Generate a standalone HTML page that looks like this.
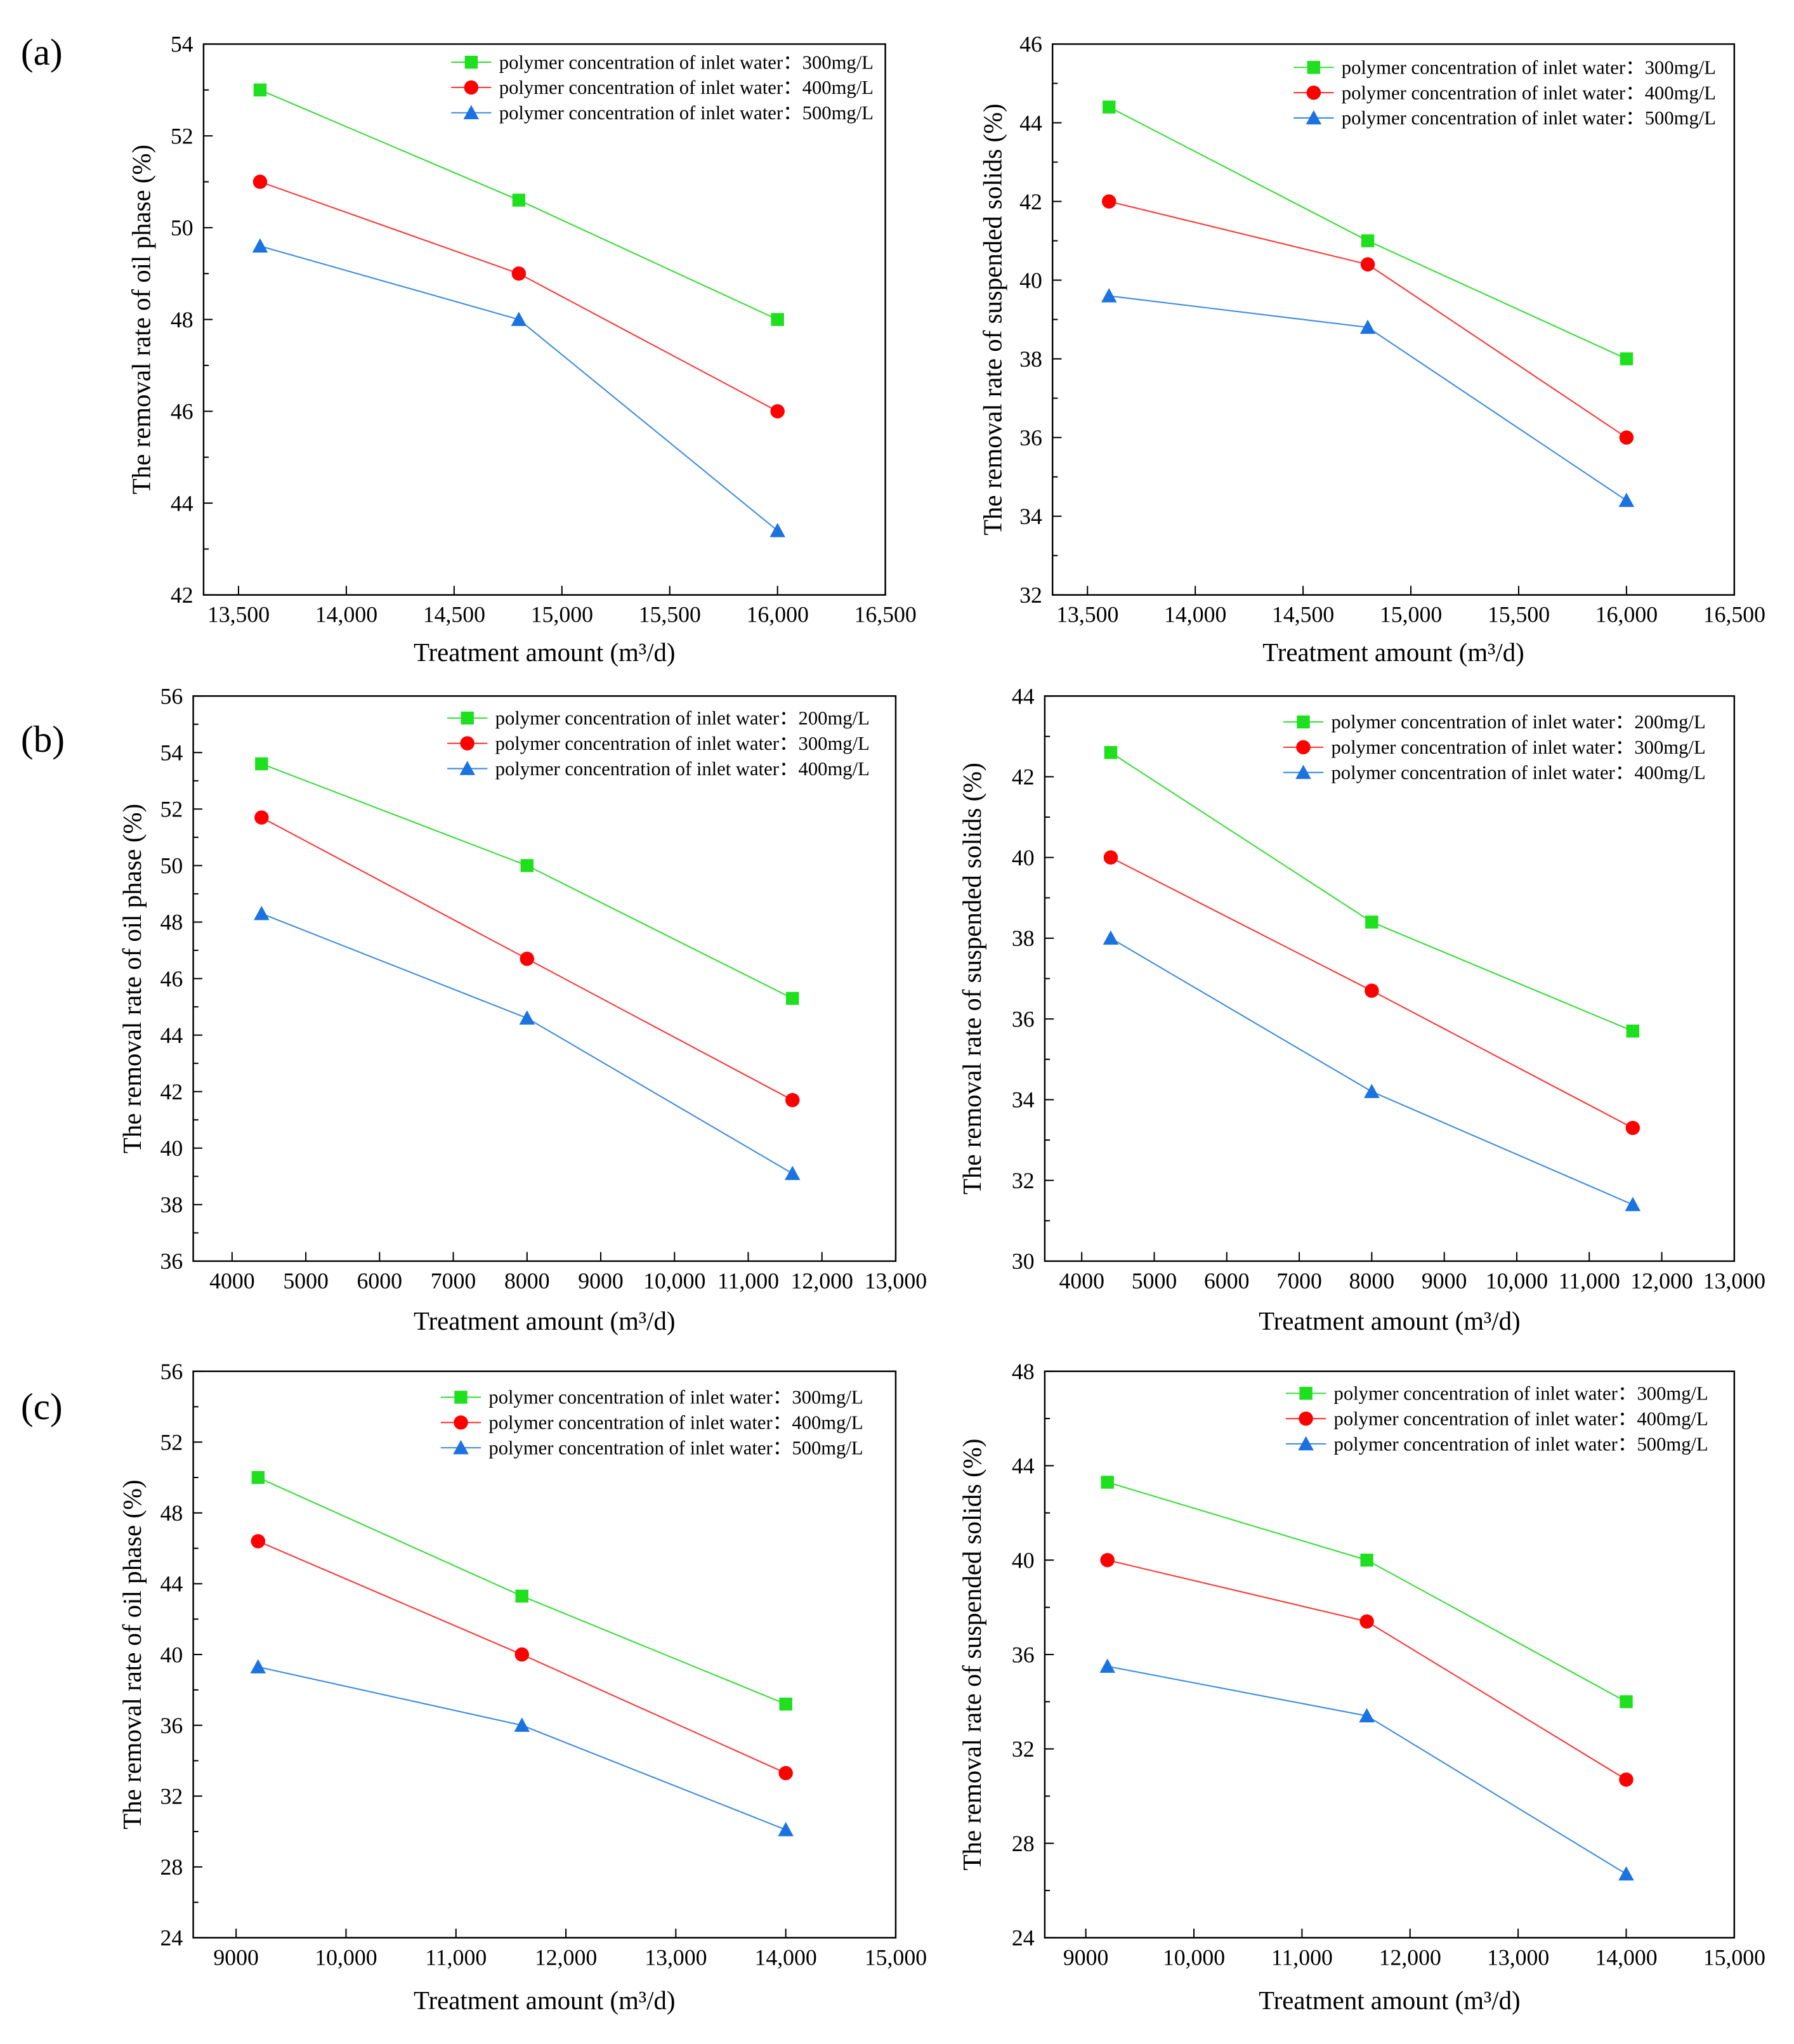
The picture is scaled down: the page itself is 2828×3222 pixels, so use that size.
<!DOCTYPE html>
<html><head><meta charset="utf-8"><style>
html,body{margin:0;padding:0;background:#fff}
svg{display:block}
text{font-family:"Liberation Serif",serif;fill:#000}
</style></head><body>
<svg id="fig" width="2828" height="3222" viewBox="0 0 1384 1577" xmlns="http://www.w3.org/2000/svg"></svg>
<script>
// ---- data ----
const xA = [13600, 14800, 16000];
const xB = [4400, 8000, 11600];
const xC = [9200, 11600, 14000];
const aOil300 = [53, 50.6, 48];
const aOil400 = [51, 49, 46];
const aOil500 = [49.6, 48, 43.4];
const aSs300 = [44.4, 41, 38];
const aSs400 = [42, 40.4, 36];
const aSs500 = [39.6, 38.8, 34.4];
const bOil200 = [53.6, 50, 45.3];
const bOil300 = [51.7, 46.7, 41.7];
const bOil400 = [48.3, 44.6, 39.1];
const bSs200 = [42.6, 38.4, 35.7];
const bSs300 = [40, 36.7, 33.3];
const bSs400 = [38, 34.2, 31.4];
const cOil300 = [50, 43.3, 37.2];
const cOil400 = [46.4, 40, 33.3];
const cOil500 = [39.3, 36, 30.1];
const cSs300 = [43.3, 40, 34];
const cSs400 = [40, 37.4, 30.7];
const cSs500 = [35.5, 33.4, 26.7];
const xTicksA = [13500, 14000, 14500, 15000, 15500, 16000, 16500];
const xTicksB = [4000, 5000, 6000, 7000, 8000, 9000, 10000, 11000, 12000, 13000];
const xTicksC = [9000, 10000, 11000, 12000, 13000, 14000, 15000];
const legA = ["300mg/L", "400mg/L", "500mg/L"];
const legB = ["200mg/L", "300mg/L", "400mg/L"];

const NS = "http://www.w3.org/2000/svg";
const svg = document.getElementById('fig');
const COLORS = ["#1fe01f", "#ff0000", "#1a73e0"];
const LINECOL = ["#33dd33", "#ff3333", "#3a8ae0"];
function mk(tag, attrs, parent) {
  const e = document.createElementNS(NS, tag);
  for (const k in attrs) e.setAttribute(k, attrs[k]);
  (parent || svg).appendChild(e);
  return e;
}
function fmt(v) { return v >= 10000 ? v.toLocaleString('en-US') : String(v); }

const panels = [
  {id:'a-oil', L:157, R:683, T:34, B:459, x0:13338, x1:16500, y0:42, y1:54, ymaj:2, ymin:1, xs:xA, xt:xTicksA, ser:[aOil300,aOil400,aOil500], leg:legA, lx:348, ly:48, yt:'The removal rate of oil phase (%)', ytx:111, xty:510},
  {id:'a-ss', L:812, R:1338, T:34, B:459, x0:13338, x1:16500, y0:32, y1:46, ymaj:2, ymin:1, xs:xA, xt:xTicksA, ser:[aSs300,aSs400,aSs500], leg:legA, lx:998, ly:52, yt:'The removal rate of suspended solids (%)', ytx:768, xty:510},
  {id:'b-oil', L:149, R:691, T:537, B:973, x0:3473, x1:13000, y0:36, y1:56, ymaj:2, ymin:1, xs:xB, xt:xTicksB, ser:[bOil200,bOil300,bOil400], leg:legB, lx:345, ly:554, yt:'The removal rate of oil phase (%)', ytx:104, xty:1026},
  {id:'b-ss', L:806, R:1338, T:537, B:973, x0:3490, x1:13000, y0:30, y1:44, ymaj:2, ymin:1, xs:xB, xt:xTicksB, ser:[bSs200,bSs300,bSs400], leg:legB, lx:990, ly:557, yt:'The removal rate of suspended solids (%)', ytx:752, xty:1026},
  {id:'c-oil', L:149, R:691, T:1058, B:1495, x0:8610, x1:15000, y0:24, y1:56, ymaj:4, ymin:2, xs:xC, xt:xTicksC, ser:[cOil300,cOil400,cOil500], leg:legA, lx:340, ly:1078, yt:'The removal rate of oil phase (%)', ytx:104, xty:1550},
  {id:'c-ss', L:806, R:1338, T:1058, B:1495, x0:8620, x1:15000, y0:24, y1:48, ymaj:4, ymin:2, xs:xC, xt:xTicksC, ser:[cSs300,cSs400,cSs500], leg:legA, lx:992, ly:1075, yt:'The removal rate of suspended solids (%)', ytx:752, xty:1550}
];

function marker(g, k, x, y) {
  let m;
  if (k === 0) m = mk('rect', {x:x-5, y:y-5, width:10, height:10, fill:COLORS[0]}, g);
  else if (k === 1) m = mk('circle', {cx:x, cy:y, r:5.5, fill:COLORS[1]}, g);
  else m = mk('polygon', {points:`${x},${y-6} ${x-6},${y+5} ${x+6},${y+5}`, fill:COLORS[2]}, g);
  return m;
}

panels.forEach(p => {
  const g = mk('g', {});
  
  
  const sx = v => p.L + (v - p.x0) / (p.x1 - p.x0) * (p.R - p.L);
  const sy = v => p.B - (v - p.y0) / (p.y1 - p.y0) * (p.B - p.T);
  const frame = mk('rect', {x:p.L, y:p.T, width:p.R-p.L, height:p.B-p.T, fill:'none', stroke:'#000', 'stroke-width':1.2}, g);
  
  
  for (let v = p.y0; v <= p.y1 + 1e-9; v += p.ymin) {
    const major = Math.abs((v - p.y0) % p.ymaj) < 1e-9;
    mk('line', {x1:p.L, x2:p.L + (major ? 7 : 4), y1:sy(v), y2:sy(v), stroke:'#000', 'stroke-width':1}, g);
    if (major) {
      const t = mk('text', {x:p.L - 8, y:sy(v) + 6, 'text-anchor':'end', 'font-size':17.5}, g);
      t.textContent = v;
      
      
    }
  }
  p.xt.forEach(v => {
    mk('line', {x1:sx(v), x2:sx(v), y1:p.B, y2:p.B - 7, stroke:'#000', 'stroke-width':1}, g);
    const t = mk('text', {x:sx(v), y:p.B + 21, 'text-anchor':'middle', 'font-size':17.5}, g);
    t.textContent = fmt(v);
    
    
  });
  const xtitle = mk('text', {x:(p.L + p.R) / 2, y:p.xty, 'text-anchor':'middle', 'font-size':20}, g);
  xtitle.textContent = 'Treatment amount (m³/d)';
  
  
  const cy = (p.T + p.B) / 2;
  const ytitle = mk('text', {x:p.ytx, y:cy, 'text-anchor':'middle', 'font-size':20, transform:`rotate(-90 ${p.ytx} ${cy})`, 'dominant-baseline':'middle'}, g);
  ytitle.textContent = p.yt;
  
  
  p.ser.forEach((s, k) => {
    const pts = s.map((v, i) => sx(p.xs[i]) + ',' + sy(v)).join(' ');
    const line = mk('polyline', {points:pts, fill:'none', stroke:LINECOL[k], 'stroke-width':1}, g);
    
    
    s.forEach((v, i) => {
      const m = marker(g, k, sx(p.xs[i]), sy(v));
      
      
    });
  });
  p.leg.forEach((lab, k) => {
    const y = p.ly + k * 19.5;
    const lg = mk('g', {}, g);
    
    
    mk('line', {x1:p.lx, x2:p.lx + 31, y1:y, y2:y, stroke:LINECOL[k], 'stroke-width':1}, lg);
    marker(lg, k, p.lx + 15.5, y);
    const t = mk('text', {x:p.lx + 37, y:y + 5, 'font-size':15}, lg);
    t.textContent = 'polymer concentration of inlet water：' + lab;
  });
});

[['(a)', 50], ['(b)', 580], ['(c)', 1095]].forEach(([s, y]) => {
  const t = mk('text', {x:16, y:y, 'font-size':29});
  t.textContent = s;
  
  
});
</script>
</body></html>
